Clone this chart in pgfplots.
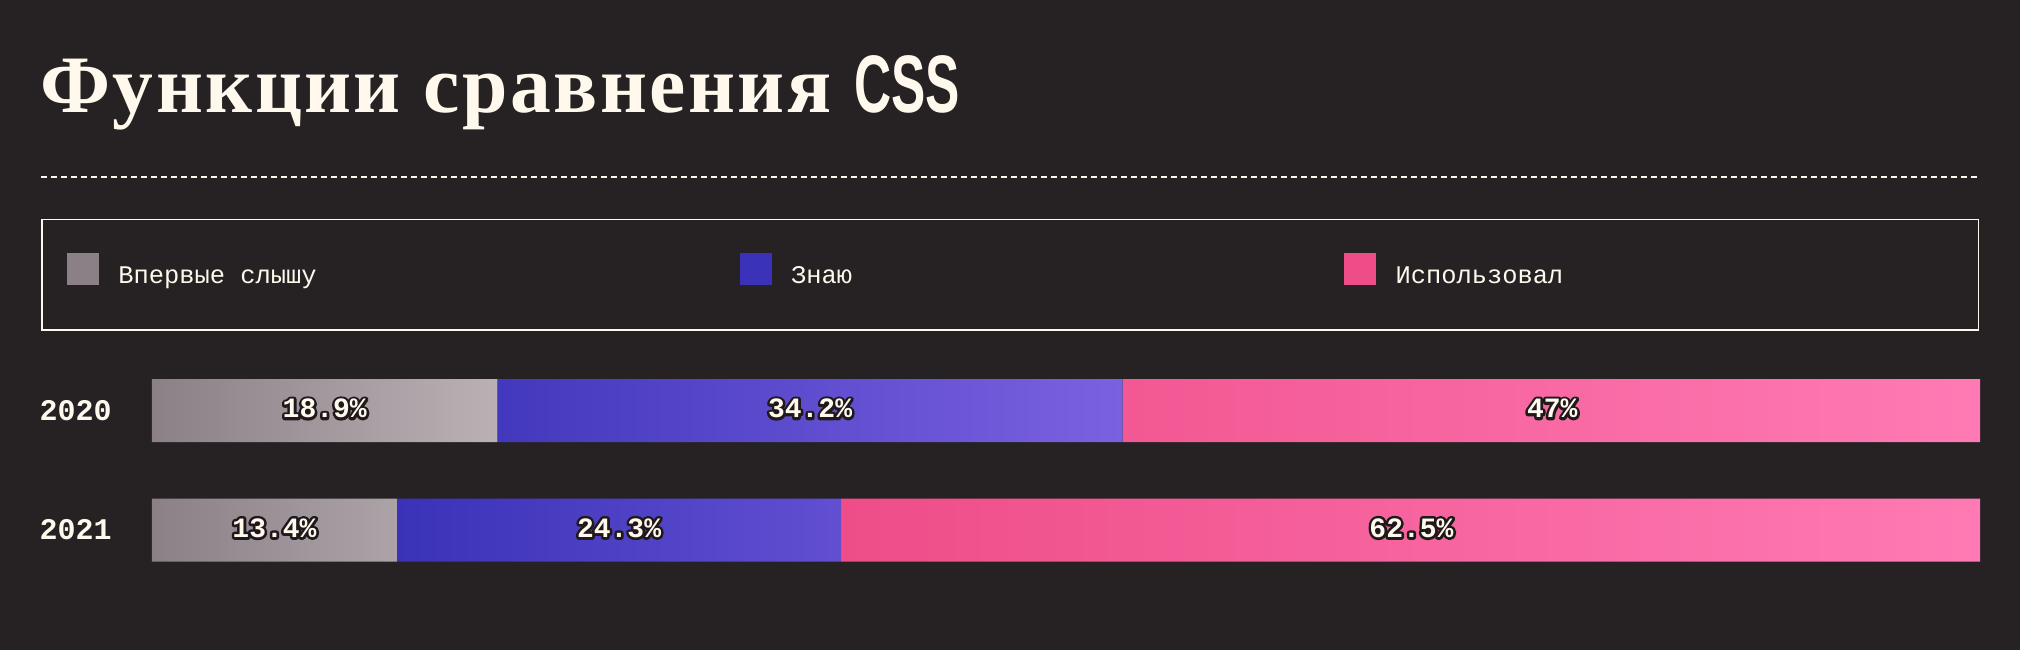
\documentclass[border=0pt]{standalone}
\usepackage{pgfplots}
\pgfplotsset{compat=1.18}
\usepackage{fontspec}
\setmainfont{Liberation Mono}
\newfontfamily\titleserif[LetterSpace=3]{Liberation Serif}
\newfontfamily\titlesans[FakeStretch=0.63]{Liberation Sans}
\definecolor{bg}{RGB}{38,34,36}
\definecolor{cream}{RGB}{255,248,236}
\definecolor{greyA}{RGB}{138,128,134}
\definecolor{greyB}{RGB}{186,177,181}
\definecolor{blueA}{RGB}{58,50,184}
\definecolor{blueB}{RGB}{123,97,224}
\definecolor{pinkA}{RGB}{238,77,136}
\definecolor{pinkB}{RGB}{255,122,180}
\newcommand\outlined[1]{\makebox[0pt][l]{\special{pdf:literal direct 1 Tr 2.6 w 1 j 0.12 0.10 0.11 RG}#1\special{pdf:literal direct 0 Tr 0.4 w}}\textcolor{cream}{#1}}
\newcommand\swatch[1]{\pgfpathrectangle{\pgfpointorigin}{\pgfpoint{16pt}{16pt}}\pgfsetfillcolor{#1}\pgfusepath{fill}}
\newcommand\legtext[2]{\raisebox{5.3pt}[10pt][4pt]{\makebox[#1][l]{#2}}}
\pgfplotstableread{
y val
1 18.9
0 13.4
}\tfirst
\pgfplotstableread{
y val
1 34.2
0 24.3
}\tknow
\pgfplotstableread{
y val
1 47
0 62.5
}\tused
\pgfplotstableread{
x y lab
9.45 1 18.9\%
36.0 1 34.2\%
76.6 1 47\%
6.7 0 13.4\%
25.55 0 24.3\%
68.9 0 62.5\%
}\tlabels
\begin{document}
\begin{tikzpicture}
\fill[bg] (0,0) rectangle (1010pt,325pt);
\node[anchor=base west, inner sep=0pt, text=cream] at (20pt,269pt)
  {\fontsize{40.8}{44}\selectfont\bfseries\titleserif Функции сравнения {\titlesans CSS}};
\draw[cream, line width=1pt, dash pattern=on 3pt off 2pt] (20.5pt,236.7pt) -- (990pt,236.7pt);
\begin{axis}[
  at={(76pt,30.125pt)}, anchor=south west,
  scale only axis, width=914pt, height=119.5pt,
  xmin=0, xmax=100, ymin=-0.5, ymax=1.5,
  xbar stacked, bar width=31.5pt,
  clip=true,
  axis line style={draw=none},
  major tick length=0pt,
  xtick=\empty,
  ytick={0,1}, yticklabels={2021,2020},
  yticklabel style={text=cream, font=\fontsize{15}{18}\selectfont\bfseries},
  yticklabel style={anchor=east, inner sep=0pt}, yticklabel shift=20pt,
  legend columns=3,
  legend cell align=left,
  legend style={at={(0,1)}, anchor=north west, xshift=-55.5pt, yshift=66.0pt,
    draw=cream, line width=0.8pt, fill=bg, text=cream,
    inner xsep=12.5pt, inner ysep=16.8pt,
    font=\fontsize{12.7}{15}\selectfont,
    nodes={inner sep=0pt},
    column sep=9.8pt,
    /tikz/every even column/.append style={column sep=0pt}},
]
\addplot[draw=none, left color=greyA, right color=greyB,
  legend image code/.code={\swatch{greyA}}]
  table[x=val, y=y] {\tfirst};
\addplot[draw=none, left color=blueA, right color=blueB,
  legend image code/.code={\swatch{blueA}}]
  table[x=val, y=y] {\tknow};
\addplot[draw=none, left color=pinkA, right color=pinkB,
  legend image code/.code={\swatch{pinkA}}]
  table[x=val, y=y] {\tused};
\legend{\legtext{310.6pt}{Впервые слышу},\legtext{276.4pt}{Знаю},\legtext{279pt}{Использовал}}
\end{axis}
\begin{axis}[
  at={(76pt,30.125pt)}, anchor=south west,
  scale only axis, width=914pt, height=119.5pt,
  xmin=0, xmax=100, ymin=-0.5, ymax=1.5,
  hide axis, clip=false,
]
\addplot[only marks, mark=none, point meta=explicit symbolic,
  nodes near coords={\outlined{\pgfplotspointmeta}},
  every node near coord/.style={anchor=center, inner sep=0pt, yshift=1pt, font=\fontsize{14}{16}\selectfont\bfseries}]
  table[x=x, y=y, meta=lab] {\tlabels};
\end{axis}
\end{tikzpicture}
\end{document}
